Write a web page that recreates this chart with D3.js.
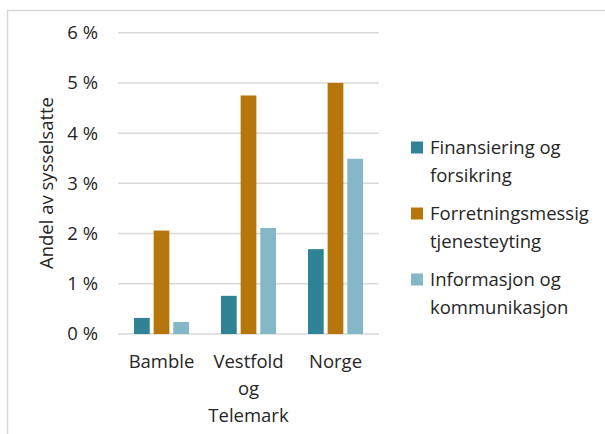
<!DOCTYPE html>
<meta charset="utf-8">
<head>
    <script src="https://cdnjs.cloudflare.com/ajax/libs/d3/7.8.5/d3.min.js"></script>
    <style>
    body { margin: 0; background: #fff; }
    text { font-family: "Open Sans", Lato, sans-serif; fill: #262626; }
    </style>
</head>
<body>
    <script>
    // data
    var categories = [ ["Bamble"], ["Vestfold", "og", "Telemark"], ["Norge"] ];
    var catKeys = ["Bamble", "Vestfold og Telemark", "Norge"];
    var seriesNames = [
        ["Finansiering og", "forsikring"],
        ["Forretningsmessig", "tjenesteyting"],
        ["Informasjon og", "kommunikasjon"]
    ];
    var finans = [0.32, 0.76, 1.69];
    var forretning = [2.06, 4.75, 5.0];
    var informasjon = [0.24, 2.11, 3.49];
    var yTicks = [0, 1, 2, 3, 4, 5, 6];
    var colors = ["#2f8394", "#b7760b", "#85b8c7"];

    var seriesValues = [finans, forretning, informasjon];
    var fontSize = "18.5px";

    var svg = d3.select("body").append("svg")
        .attr("width", 605)
        .attr("height", 434);

    // chart frame (only top and left edges are visible)
    svg.append("path")
        .attr("d", "M7.5,434 V10.5 H605")
        .attr("fill", "none")
        .attr("stroke", "#d9d9d9")
        .attr("stroke-width", 1.5);

    // scales
    var x0 = d3.scaleBand()
        .domain(catKeys)
        .range([118, 379])
        .padding(0);
    var x1 = d3.scaleBand()
        .domain([0, 1, 2])
        .range([16, 71])
        .paddingInner(0.2);
    var y = d3.scaleLinear()
        .domain([0, 6])
        .range([334, 32.7]);

    // gridlines
    svg.append("g").selectAll("line")
        .data(yTicks)
        .enter().append("line")
        .attr("x1", 118)
        .attr("x2", 379)
        .attr("y1", function(d) { return y(d); })
        .attr("y2", function(d) { return y(d); })
        .attr("stroke", "#d9d9d9")
        .attr("stroke-width", 1.5);

    // y tick labels
    svg.append("g").selectAll("text")
        .data(yTicks)
        .enter().append("text")
        .attr("x", 98)
        .attr("y", function(d) { return y(d); })
        .attr("dy", "0.35em")
        .attr("text-anchor", "end")
        .style("font-size", fontSize)
        .text(function(d) { return d + " %"; });

    // bars
    var groups = svg.append("g").selectAll("g")
        .data(catKeys)
        .enter().append("g")
        .attr("transform", function(d) { return "translate(" + x0(d) + ",0)"; });

    groups.selectAll("rect")
        .data(function(d, i) { return seriesValues.map(function(s, j) { return { s: j, v: s[i] }; }); })
        .enter().append("rect")
        .attr("x", function(d) { return x1(d.s); })
        .attr("width", x1.bandwidth())
        .attr("y", function(d) { return y(d.v); })
        .attr("height", function(d) { return y(0) - y(d.v); })
        .attr("fill", function(d) { return colors[d.s]; });

    // category labels
    svg.append("g").selectAll("text")
        .data(categories)
        .enter().append("text")
        .attr("x", function(d, i) { return x0(catKeys[i]) + x0.bandwidth() / 2; })
        .attr("y", 368)
        .attr("text-anchor", "middle")
        .style("font-size", fontSize)
        .each(function(d) {
            var t = d3.select(this);
            d.forEach(function(line, k) {
                t.append("tspan")
                    .attr("x", t.attr("x"))
                    .attr("dy", k === 0 ? 0 : 26.8)
                    .text(line);
            });
        });

    // y axis title
    svg.append("text")
        .attr("transform", "translate(53,183) rotate(-90)")
        .attr("text-anchor", "middle")
        .style("font-size", fontSize)
        .text("Andel av sysselsatte");

    // legend
    var legend = svg.append("g").selectAll("g")
        .data(seriesNames)
        .enter().append("g")
        .attr("transform", function(d, i) { return "translate(411," + (141.5 + i * 66) + ")"; });
    legend.append("rect")
        .attr("width", 12)
        .attr("height", 12)
        .attr("fill", function(d, i) { return colors[i]; });
    legend.append("text")
        .attr("x", 19)
        .attr("y", 12)
        .style("font-size", fontSize)
        .each(function(d) {
            var t = d3.select(this);
            d.forEach(function(line, k) {
                t.append("tspan")
                    .attr("x", 19)
                    .attr("dy", k === 0 ? 0 : 28.3)
                    .text(line);
            });
        });
    </script>
</body>
</html>
